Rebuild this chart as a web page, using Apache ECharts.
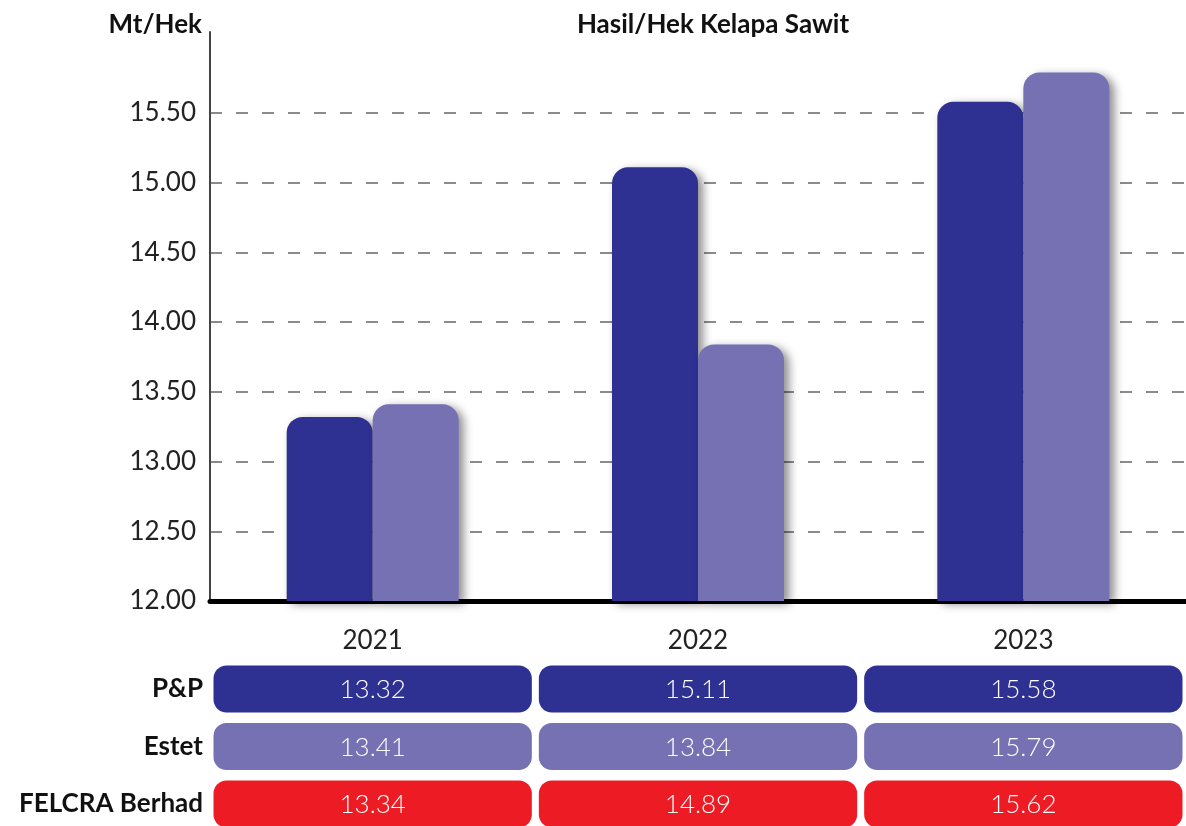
<!DOCTYPE html>
<html>
<head>
<meta charset="utf-8">
<script src="https://cdn.jsdelivr.net/npm/echarts@6/dist/echarts.min.js"></script>
<style>
  html, body { margin: 0; padding: 0; background: #fff; }
  #chart { width: 1186px; height: 826px; }
</style>
</head>
<body>
<div id="chart"></div>
<script>
var years = ["2021", "2022", "2023"];
var pp = [13.32, 15.11, 15.58];
var estet = [13.41, 13.84, 15.79];
var felcra = [13.34, 14.89, 15.62];
var rowNames = ["FELCRA Berhad", "Estet", "P&P"];
var yTicks = [12, 12.5, 13, 13.5, 14, 14.5, 15, 15.5];

var cPP = "#2e3192";
var cEstet = "#7571b3";
var cFelcra = "#ed1c24";
var rowColors = [cFelcra, cEstet, cPP];
var rowValues = [felcra, estet, pp];

// cells for the table below the chart: [col, row, value]
var cells = [];
rowValues.forEach(function (vals, r) {
  vals.forEach(function (v, c) {
    cells.push([c, r, v]);
  });
});

var font = "Lato, 'Noto Sans', sans-serif";
var myChart = echarts.init(document.getElementById("chart"));

var gridColors = yTicks.map(function () { return "#666"; });
gridColors.push("transparent", "transparent");

var option = {
  animation: false,
  textStyle: { fontFamily: font },
  title: [
    {
      text: "Hasil/Hek Kelapa Sawit",
      left: 708,
      top: 7,
      textAlign: "center",
      textStyle: { fontSize: 26, fontWeight: "bold", color: "#111", fontFamily: font }
    },
    {
      text: "Mt/Hek",
      left: 197,
      top: 7,
      textAlign: "right",
      textStyle: { fontSize: 26, fontWeight: "bold", color: "#111", fontFamily: font }
    }
  ],
  grid: [
    { left: 210, top: 32, width: 981, height: 569 },
    { left: 210, top: 689, width: 981, height: 115 }
  ],
  xAxis: [
    {
      type: "category",
      gridIndex: 0,
      data: years,
      axisLine: { lineStyle: { color: "#000", width: 5 } },
      axisTick: { show: false },
      axisLabel: { fontSize: 26, color: "#222", margin: 27, fontFamily: font }
    },
    {
      type: "category",
      gridIndex: 1,
      data: years,
      show: false
    }
  ],
  yAxis: [
    {
      type: "value",
      gridIndex: 0,
      min: 12,
      max: 16.08,
      interval: 0.5,
      axisLine: { show: true, lineStyle: { color: "#444", width: 2 } },
      axisTick: { show: false },
      axisLabel: {
        fontSize: 26,
        color: "#222",
        margin: 14,
        fontFamily: font,
        formatter: function (v) { return v > 15.6 ? "" : v.toFixed(2); }
      },
      splitLine: {
        show: true,
        lineStyle: { color: gridColors, type: [12, 14], width: 1.5 }
      }
    },
    {
      type: "category",
      gridIndex: 1,
      data: rowNames,
      boundaryGap: false,
      axisLine: { show: false },
      axisTick: { show: false },
      axisLabel: { fontSize: 26, fontWeight: "bold", color: "#111", margin: 7, fontFamily: font }
    }
  ],
  series: [
    {
      name: "P&P",
      type: "bar",
      xAxisIndex: 0,
      yAxisIndex: 0,
      data: pp,
      barWidth: 86,
      barGap: "0%",
      itemStyle: {
        color: cPP,
        borderRadius: [16, 16, 0, 0],
        shadowBlur: 10,
        shadowOffsetX: 5,
        shadowOffsetY: 3,
        shadowColor: "rgba(0,0,0,0.45)"
      }
    },
    {
      name: "Estet",
      type: "bar",
      xAxisIndex: 0,
      yAxisIndex: 0,
      data: estet,
      barWidth: 86,
      barGap: "0%",
      itemStyle: {
        color: cEstet,
        borderRadius: [16, 16, 0, 0],
        shadowBlur: 10,
        shadowOffsetX: 5,
        shadowOffsetY: 3,
        shadowColor: "rgba(0,0,0,0.45)"
      }
    },
    {
      name: "table",
      type: "custom",
      xAxisIndex: 1,
      yAxisIndex: 1,
      data: cells,
      renderItem: function (params, api) {
        var c = api.coord([api.value(0), api.value(1)]);
        var size = api.size([1, 1]);
        var w = size[0] - 7;
        var h = 47;
        var r = api.value(1);
        return {
          type: "group",
          children: [
            {
              type: "rect",
              shape: { x: c[0] - w / 2, y: c[1] - h / 2, width: w, height: h, r: 13 },
              style: { fill: rowColors[r] }
            },
            {
              type: "text",
              style: {
                x: c[0],
                y: c[1] + 1,
                text: api.value(2).toFixed(2),
                fill: "#fff",
                font: "300 26px " + font,
                align: "center",
                verticalAlign: "middle"
              }
            }
          ]
        };
      }
    }
  ]
};

option && myChart.setOption(option);
</script>
</body>
</html>
